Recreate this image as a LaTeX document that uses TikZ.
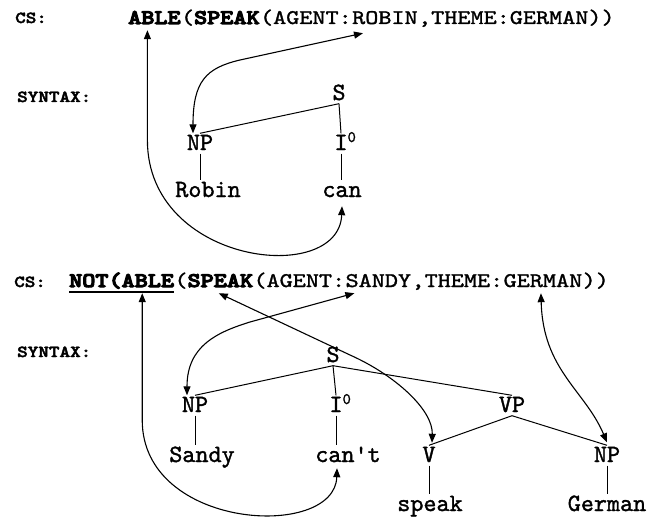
\documentclass[tikz,border=0pt]{standalone}
\usepackage{fontspec}
\newfontfamily\csreg{lmmono10-regular.otf}[FakeBold=1.4,FakeStretch=1.2]
\newfontfamily\heavy{lmmonolt10-bold.otf}[FakeBold=5,FakeStretch=1.2]
\newfontfamily\treereg{lmmono10-regular.otf}[FakeBold=1.4]
\newfontfamily\lblfont{lmmonolt10-bold.otf}[FakeBold=2.5,FakeStretch=1.2]
\usetikzlibrary{arrows.meta}
\newcommand\cssize{\fontsize{20.8pt}{24pt}\selectfont}
\newcommand\treesize{\fontsize{24.9pt}{28pt}\selectfont}
\newcommand\supzero{\rlap{\raisebox{8pt}{\treereg\fontsize{16pt}{16pt}\selectfont 0}}}
\tikzset{
  cs/.style={font=\csreg\cssize, inner xsep=0pt, inner ysep=6pt, text height=12pt, text depth=0pt, anchor=base west},
  tn/.style={font=\treereg\treesize, inner sep=1.5pt, text height=15pt, text depth=2pt, anchor=base},
  lbl/.style={font=\lblfont\fontsize{16.8pt}{20pt}\selectfont, inner sep=0pt, anchor=base west},
  tree/.style={line width=1pt},
  link/.style={line width=1.1pt, {Triangle[length=9pt,width=7pt]}-{Triangle[length=9pt,width=7pt]}},
}
\begin{document}
\begin{tikzpicture}[x=1pt,y=-1pt]
\useasboundingbox (0,0) rectangle (647,516);
% ---------- top ----------
\node[lbl] (cs1) at (15,23) {CS:};
\node[lbl] (syn1) at (17,102) {SYNTAX:};
\node[cs] (able1) at (128,24) {\heavy ABLE};
\node[cs] (speak1) at (able1.base east) {(\heavy SPEAK};
\node[cs] (agent1) at (speak1.base east) {(AGENT:};
\node[cs] (robin1) at (agent1.base east) {ROBIN};
\node[cs] (rest1) at (robin1.base east) {,THEME:GERMAN))};

\node[tn] (s1) at (339,100) {S};
\node[tn] (np1) at (200,150) {NP};
\node[tn] (i1) at (341,150) {I\supzero};
\node[tn] (robinw) at (208,197) {Robin};
\node[tn] (canw) at (342,197) {can};
\draw[tree] (s1.south) -- (np1.north);
\draw[tree] (s1.south) -- (i1.north);
\draw[tree] (np1.south) -- (np1.south |- robinw.north);
\draw[tree] (i1.south) -- (i1.south |- canw.north);

\draw[link] ([xshift=-7pt]able1.south) -- ++(0,110) .. controls +(0,125) and +(-3,80) .. ([yshift=-5.5pt]canw.south);
\draw[link] ([xshift=-7pt]np1.north) .. controls +(0,-52) and +(-34,8) .. (240,60) -- ([xshift=11pt,yshift=-3pt]robin1.south west);

% ---------- bottom ----------
\node[lbl] (cs2) at (14,287) {CS:};
\node[lbl] (syn2) at (17,357) {SYNTAX:};
\node[cs] (notable) at (69,287) {\heavy NOT(ABLE};
\node[cs] (speak2) at (notable.base east) {(\heavy SPEAK};
\node[cs] (agent2) at (speak2.base east) {(AGENT:};
\node[cs] (sandy2) at (agent2.base east) {SANDY};
\node[cs] (theme2) at (sandy2.base east) {,THEME:};
\node[cs] (german2) at (theme2.base east) {GERMAN};
\node[cs] (close2) at (german2.base east) {))};
\draw[line width=1.8pt] ([yshift=-5pt]notable.base west) -- ([yshift=-5pt]notable.base east);

\node[tn] (s2) at (333,362) {S};
\node[tn] (np2) at (195,412) {NP};
\node[tn] (i2) at (336,412) {I\supzero};
\node[tn] (vp2) at (512,412) {VP};
\node[tn] (sandyw) at (202,462) {Sandy};
\node[tn] (cantw) at (348,462) {can't};
\node[tn] (v2) at (429,462) {V};
\node[tn] (np3) at (607,462) {NP};
\node[tn] (speakw) at (430,511) {speak};
\node[tn] (germanw) at (607,511) {German};
\draw[tree] (s2.south) -- (np2.north);
\draw[tree] (s2.south) -- (i2.north);
\draw[tree] (s2.south) -- (vp2.north);
\draw[tree] (np2.south) -- (np2.south |- sandyw.north);
\draw[tree] (i2.south) -- (i2.south |- cantw.north);
\draw[tree] (vp2.south) -- (v2.north);
\draw[tree] (vp2.south) -- (np3.north);
\draw[tree] (v2.south) -- (v2.south |- speakw.north);
\draw[tree] (np3.south) -- (germanw.north);

\draw[link] ([xshift=-32pt]notable.south east) -- ++(0,127) .. controls +(0,110) and +(-2,72) .. ([xshift=-11pt,yshift=-2.5pt]cantw.south);
\draw[link] ([xshift=-8pt]np2.north) .. controls +(0,-50) and +(-32,10) .. (250,322) -- ([xshift=9pt]sandy2.south west);
\draw[link] ([xshift=5pt]speak2.south) -- (350,355) .. controls +(45,20) and +(1,-33) .. ([xshift=3pt,yshift=2.5pt]v2.north);
\draw[link] ([xshift=-2pt]german2.south) .. controls +(2,77) and +(-22,-52) .. ([yshift=3pt]np3.north);
\end{tikzpicture}
\end{document}
